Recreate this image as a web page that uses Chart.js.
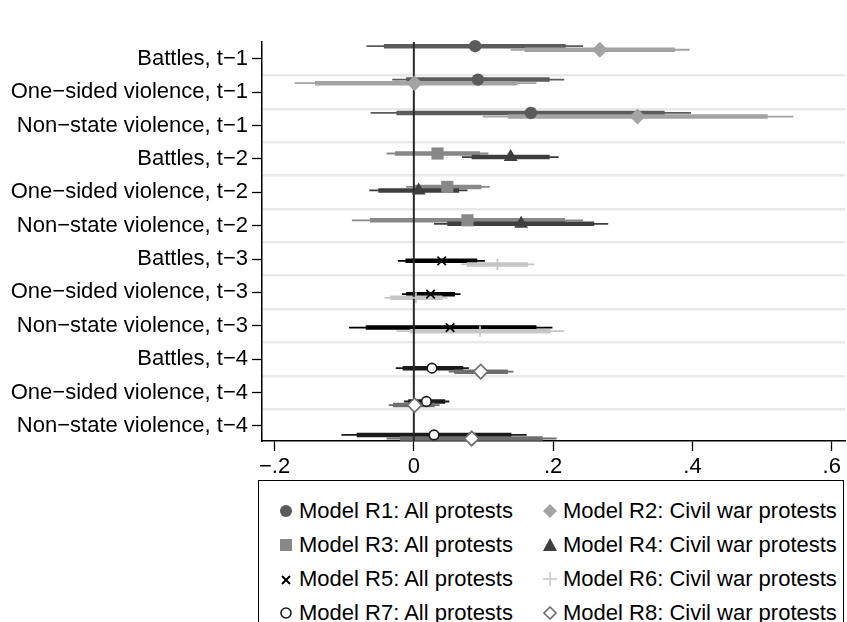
<!DOCTYPE html>
<html>
<head>
<meta charset="utf-8">
<script src="https://cdn.jsdelivr.net/npm/chart.js@4.4.1/dist/chart.umd.min.js"></script>
<style>
    body { margin: 0; width: 847px; height: 622px; overflow: hidden; background: #fff; font-family: 'Liberation Sans', Arial, sans-serif; }
    #wrap { position: absolute; left: 0; top: 0; width: 847px; height: 478px; }
    #legend { position: absolute; left: 258px; top: 480px; width: 586px; height: 160px; border: 1px solid #000; box-sizing: border-box; }
    .item { position: absolute; font-size: 22px; line-height: 24px; color: #000; white-space: nowrap; }
    .item svg { position: absolute; left: -20px; top: 5px; }
</style>
</head>
<body>
<div id="wrap"><canvas id="coefChart" width="847" height="478"></canvas></div>
<div id="legend"></div>
<script>
const ROW_LABELS = [
    'Battles, t\u22121', 'One\u2212sided violence, t\u22121', 'Non\u2212state violence, t\u22121',
    'Battles, t\u22122', 'One\u2212sided violence, t\u22122', 'Non\u2212state violence, t\u22122',
    'Battles, t\u22123', 'One\u2212sided violence, t\u22123', 'Non\u2212state violence, t\u22123',
    'Battles, t\u22124', 'One\u2212sided violence, t\u22124', 'Non\u2212state violence, t\u22124'
];
const MODEL_NAMES = [
    'Model R1: All protests', 'Model R2: Civil war protests',
    'Model R3: All protests', 'Model R4: Civil war protests',
    'Model R5: All protests', 'Model R6: Civil war protests',
    'Model R7: All protests', 'Model R8: Civil war protests'
];
// row numbers (1 = top) each model is shown on
const MODEL_ROWS = [
    [1, 2, 3], [1, 2, 3], [4, 5, 6], [4, 5, 6],
    [7, 8, 9], [7, 8, 9], [10, 11, 12], [10, 11, 12]
];
const COEF = [
    [0.088, 0.092, 0.168], [0.267, 0.001, 0.321],
    [0.034, 0.048, 0.077], [0.139, 0.007, 0.154],
    [0.040, 0.024, 0.052], [0.120, 0.003, 0.095],
    [0.026, 0.018, 0.029], [0.096, 0.001, 0.083]
];
const LO95 = [
    [-0.068, -0.031, -0.062], [0.139, -0.171, 0.099],
    [-0.039, -0.011, -0.089], [0.069, -0.064, 0.029],
    [-0.023, -0.017, -0.093], [0.068, -0.042, -0.025],
    [-0.026, -0.014, -0.104], [0.050, -0.036, -0.039]
];
const HI95 = [
    [0.243, 0.216, 0.398], [0.396, 0.176, 0.545],
    [0.107, 0.109, 0.243], [0.208, 0.077, 0.279],
    [0.102, 0.067, 0.199], [0.173, 0.048, 0.216],
    [0.079, 0.051, 0.162], [0.143, 0.037, 0.205]
];
const LO90 = [
    [-0.043, -0.011, -0.025], [0.159, -0.142, 0.135],
    [-0.027, 0.001, -0.063], [0.083, -0.051, 0.048],
    [-0.012, -0.011, -0.069], [0.076, -0.034, -0.006],
    [-0.016, -0.008, -0.082], [0.058, -0.030, -0.020]
];
const HI90 = [
    [0.218, 0.195, 0.360], [0.375, 0.149, 0.508],
    [0.095, 0.097, 0.217], [0.195, 0.065, 0.259],
    [0.091, 0.059, 0.176], [0.164, 0.041, 0.196],
    [0.071, 0.045, 0.140], [0.135, 0.030, 0.185]
];
const X_TICKS = [-0.2, 0, 0.2, 0.4, 0.6];

// look of each model
const COLORS = ['#5b5b5b', '#a3a3a3', '#888888', '#3e3e3e', '#000000', '#c6c6c6', '#1a1a1a', '#6e6e6e'];
const STYLES = ['circle', 'rectRot', 'rect', 'triangle', 'crossRot', 'cross', 'circle', 'rectRot'];
const RADIUS = [6.2, 8, 8.6, 8, 6, 5.5, 4.8, 7.2];
const HOLLOW = [false, false, false, false, false, false, true, true];
const OFFSET_STEP = 0.107;

Chart.defaults.font.family = "'Liberation Sans', Arial, sans-serif";
Chart.defaults.color = '#000';

function segData(m, lo, hi) {
    let out = [];
    const off = (m - 3.5) * OFFSET_STEP;
    MODEL_ROWS[m].forEach((row, i) => {
        out.push({x: lo[m][i], y: row + off});
        out.push({x: hi[m][i], y: row + off});
        out.push({x: hi[m][i], y: null});
    });
    return out;
}

let datasets = [];
let order = 1000;
MODEL_NAMES.forEach((name, m) => {
    datasets.push({
        label: name + ' 95', data: segData(m, LO95, HI95), showLine: true, spanGaps: false,
        borderColor: COLORS[m], borderWidth: 1.8, pointRadius: 0, order: order--, clip: false
    });
    datasets.push({
        label: name + ' 90', data: segData(m, LO90, HI90), showLine: true, spanGaps: false,
        borderColor: COLORS[m], borderWidth: 4.5, pointRadius: 0, order: order--, clip: false
    });
});
datasets.push({
    label: 'zero', data: [{x: 0, y: 0.5}, {x: 0, y: 12.45}], showLine: true,
    borderColor: '#2a2a2a', borderWidth: 2, pointRadius: 0, order: order--
});
MODEL_NAMES.forEach((name, m) => {
    const off = (m - 3.5) * OFFSET_STEP;
    datasets.push({
        label: name,
        data: MODEL_ROWS[m].map((row, i) => ({x: COEF[m][i], y: row + off})),
        pointStyle: STYLES[m],
        pointRadius: RADIUS[m],
        pointBackgroundColor: HOLLOW[m] ? '#fff' : COLORS[m],
        pointBorderColor: COLORS[m],
        pointBorderWidth: HOLLOW[m] || STYLES[m].startsWith('cross') ? 1.7 : 0,
        showLine: false,
        order: order--,
        clip: false
    });
});

const config = {
    type: 'scatter',
    data: {datasets: datasets},
    options: {
        responsive: false,
        animation: false,
        devicePixelRatio: 1,
        layout: {autoPadding: false, padding: {top: 42, right: 2, left: 0, bottom: 0}},
        plugins: {legend: {display: false}, tooltip: {enabled: false}},
        scales: {
            x: {
                type: 'linear', position: 'bottom', min: -0.218, max: 0.619,
                afterBuildTicks: s => { s.ticks = X_TICKS.map(v => ({value: v})); },
                afterFit: s => { s.height = 37; s.paddingLeft = 0; s.paddingRight = 0; },
                ticks: {
                    font: {size: 22}, padding: 3, color: '#000',
                    callback: v => v === 0 ? '0' : (v < 0 ? '\u2212' : '') + Math.abs(v).toFixed(1).replace(/^0/, '')
                },
                grid: {drawOnChartArea: false, tickLength: 10, color: '#000', tickWidth: 1.3},
                border: {color: '#000', width: 1.5}
            },
            y: {
                type: 'linear', position: 'left', reverse: true, min: 0.5, max: 12.45,
                afterBuildTicks: s => { s.ticks = ROW_LABELS.map((l, i) => ({value: i + 1})); },
                afterFit: s => { s.width = 262; s.paddingTop = 0; s.paddingBottom = 0; },
                ticks: {font: {size: 22}, padding: 4, color: '#000', callback: v => ROW_LABELS[v - 1]},
                grid: {drawOnChartArea: false, tickLength: 10, color: '#000', tickWidth: 1.3},
                border: {color: '#000', width: 1.5}
            },
            yg: {
                type: 'linear', position: 'left', reverse: true, min: 0.5, max: 12.45,
                afterBuildTicks: s => { s.ticks = ROW_LABELS.slice(1).map((l, i) => ({value: i + 1.5})); },
                afterFit: s => { s.width = 0; },
                ticks: {display: false},
                grid: {drawTicks: false, color: '#e9e9e9', lineWidth: 2.5},
                border: {display: false}
            }
        }
    }
};

new Chart('coefChart', config);

// legend, two columns
const legend = document.getElementById('legend');
function markerSvg(m) {
    const c = COLORS[m];
    const fill = HOLLOW[m] ? 'none' : c;
    const sw = HOLLOW[m] ? 1.6 : 0;
    let shape = '';
    if (STYLES[m] == 'circle') shape = `<circle cx="7" cy="7" r="${HOLLOW[m] ? 5 : 6}" fill="${fill}" stroke="${c}" stroke-width="${sw}"/>`;
    if (STYLES[m] == 'rectRot') shape = `<polygon points="7,${HOLLOW[m] ? 1 : 0} ${HOLLOW[m] ? 13 : 14},7 7,${HOLLOW[m] ? 13 : 14} ${HOLLOW[m] ? 1 : 0},7" fill="${fill}" stroke="${c}" stroke-width="${sw}"/>`;
    if (STYLES[m] == 'rect') shape = `<rect x="1" y="1" width="12" height="12" fill="${c}"/>`;
    if (STYLES[m] == 'triangle') shape = `<polygon points="7,0 14,13 0,13" fill="${c}"/>`;
    if (STYLES[m] == 'crossRot') shape = `<path d="M3,4 L11,12 M11,4 L3,12" stroke="${c}" stroke-width="2"/>`;
    if (STYLES[m] == 'cross') shape = `<path d="M7,0 L7,14 M0,7 L14,7" stroke="${c}" stroke-width="1.5"/>`;
    return `<svg width="14" height="14" viewBox="0 0 14 14">${shape}</svg>`;
}
MODEL_NAMES.forEach((name, m) => {
    const div = document.createElement('div');
    div.className = 'item';
    div.style.left = (m % 2 == 0 ? 40 : 304) + 'px';
    div.style.top = (18 + Math.floor(m / 2) * 34) + 'px';
    div.innerHTML = markerSvg(m) + name;
    legend.appendChild(div);
});
</script>
</body>
</html>
